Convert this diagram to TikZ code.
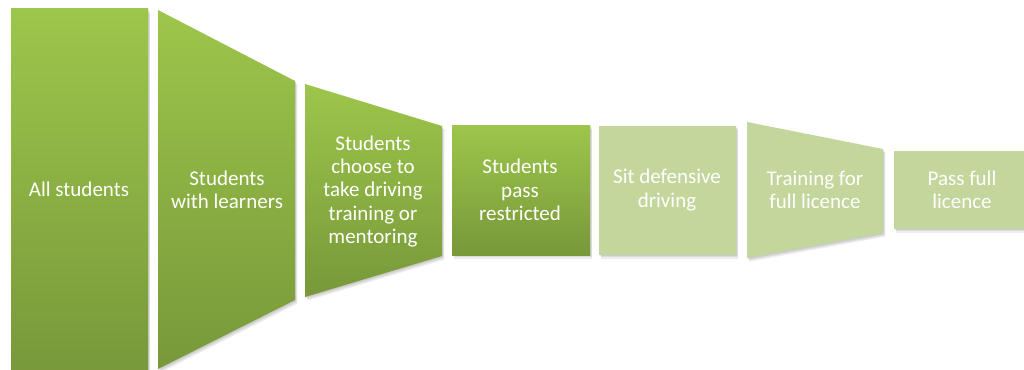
\documentclass[tikz,border=0pt]{standalone}
\usepackage{fontspec}
\setmainfont{Carlito}
\definecolor{gTop}{HTML}{9DC64B}
\definecolor{gBot}{HTML}{78983A}
\definecolor{gLight}{HTML}{C3D69B}
\newcommand\shpA{(11,9) -- (148,9) -- (148,375) -- (11,375) -- cycle}
\newcommand\shpB{(158,10) -- (295,81) -- (295,300) -- (158,369) -- cycle}
\newcommand\shpC{(305,84) -- (442,126) -- (442,256) -- (305,297) -- cycle}
\newcommand\shpD{(452,125) -- (590,125) -- (590,255) -- (452,255) -- cycle}
\newcommand\shpE{(599,126) -- (736,126) -- (736,255) -- (599,255) -- cycle}
\newcommand\shpF{(747,122) -- (883,149) -- (883,233) -- (747,258) -- cycle}
\newcommand\shpG{(894,151) -- (1035,151) -- (1035,229) -- (894,229) -- cycle}
\begin{document}
\begin{tikzpicture}[x=1pt,y=-1pt,
  shdA/.style={fill=black,fill opacity=0.07},
  dark/.style={top color=gTop,bottom color=gBot,draw=none},
  light/.style={fill=gLight,draw=none},
  lbl/.style={text=white,align=center,inner sep=0pt,font=\fontsize{21}{23.3}\selectfont}]
\useasboundingbox (0,0) rectangle (1024,369);
\begin{scope}
\clip (0,0) rectangle (1024,369);
\fill[white] (0,0) rectangle (1024,369);
% soft shadows
\foreach \dx/\dy in {0.8/1.2,1.6/2.4,2.4/3.6}{
  \begin{scope}[shift={(\dx,\dy)}]
    \foreach \s in {\shpA,\shpB,\shpC,\shpD,\shpE,\shpF,\shpG}{\path[shdA] \s;}
  \end{scope}
}
% funnel shapes
\path[dark]  \shpA;
\path[dark]  \shpB;
\path[dark]  \shpC;
\path[dark]  \shpD;
\path[light] \shpE;
\path[light] \shpF;
\path[light] \shpG;
% labels
\node[lbl] (s1) at (79,189) {All students};
\node[lbl] (s2) at (227,190) {Students\\with learners};
\node[lbl] (s3) at (373,191.5) {Students\\choose to\\take driving\\training or\\mentoring};
\node[lbl] (s4) at (520,190) {Students\\pass\\restricted};
\node[lbl] (s5) at (667,190) {Sit defensive\\driving};
\node[lbl] (s6) at (815,190) {Training for\\full licence};
\node[lbl] (s7) at (962,190) {Pass full\\licence};
\end{scope}
\end{tikzpicture}
\end{document}
